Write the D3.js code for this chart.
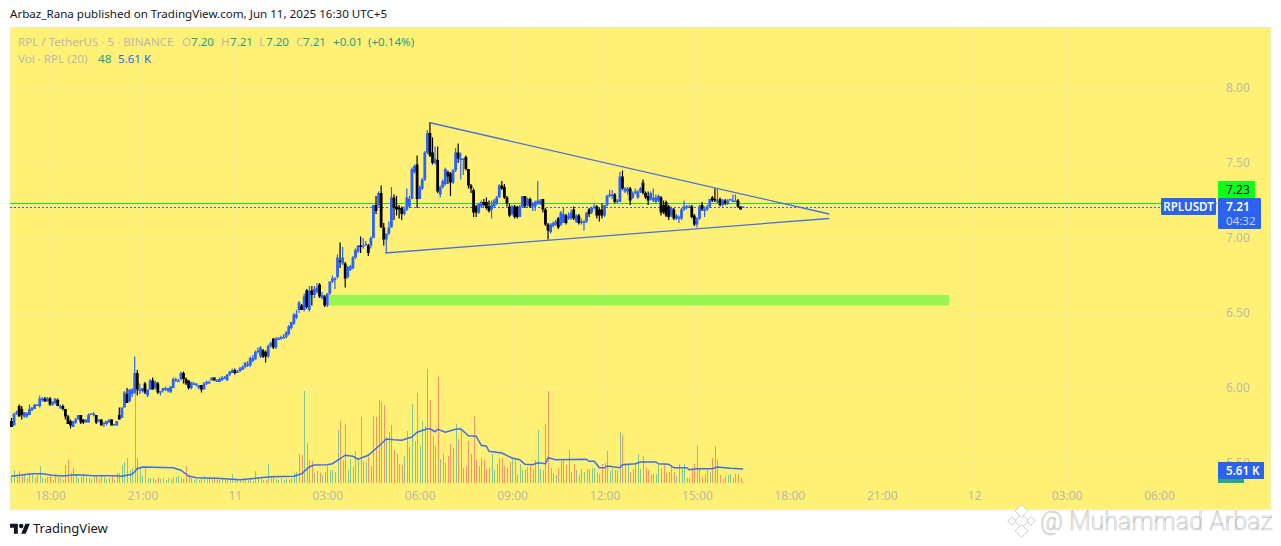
<!DOCTYPE html>
<html>
<head>
<meta charset="utf-8">
<title>RPLUSDT</title>
<script src="https://cdn.jsdelivr.net/npm/d3@7"></script>
<style>
  html, body { margin: 0; padding: 0; background: #ffffff; }
  svg { display: block; }
  text { font-family: "Noto Sans", sans-serif; }
</style>
</head>
<body>
<div id="chart"></div>
<script>
// candles, one row per hour of 5 minute bars, first bar is 16:45
var opens = [
  5.78,5.75,5.83,5.88,5.86,5.81,5.81,5.82,5.85,5.86,5.88,5.88,
  5.92,5.93,5.91,5.93,5.89,5.90,5.92,5.88,5.88,5.86,5.81,5.78,
  5.74,5.77,5.79,5.82,5.79,5.77,5.77,5.82,5.83,5.82,5.78,5.79,
  5.76,5.76,5.77,5.79,5.75,5.75,5.82,5.80,5.87,5.96,5.91,5.96,
  5.97,6.10,5.98,5.98,6.03,5.95,5.99,6.05,6.00,6.03,5.97,5.98,
  6.00,5.98,5.97,6.00,6.05,6.05,6.06,6.10,6.06,6.05,6.00,6.03,
  6.02,6.00,6.02,5.99,6.03,6.04,6.05,6.07,6.05,6.04,6.05,6.07,
  6.05,6.09,6.10,6.12,6.10,6.11,6.12,6.14,6.16,6.15,6.18,6.19,
  6.24,6.21,6.25,6.24,6.21,6.28,6.33,6.27,6.33,6.33,6.34,6.34,
  6.36,6.40,6.43,6.47,6.52,6.55,6.52,6.65,6.52,6.65,6.62,6.64,
  6.69,6.60,6.61,6.55,6.63,6.71,6.72,6.74,6.85,6.83,6.83,6.74,
  6.79,6.80,6.87,6.91,6.95,6.94,6.96,6.95,6.95,7.00,7.22,7.22,
  7.30,7.07,6.99,7.03,7.07,7.27,7.21,7.20,7.20,7.16,7.19,7.21,
  7.26,7.44,7.49,7.26,7.33,7.39,7.57,7.70,7.57,7.50,7.52,7.29,
  7.34,7.36,7.44,7.43,7.37,7.45,7.57,7.53,7.52,7.54,7.46,7.35,
  7.32,7.21,7.17,7.21,7.24,7.24,7.21,7.19,7.21,7.23,7.27,7.35,
  7.34,7.27,7.21,7.16,7.21,7.21,7.14,7.21,7.28,7.22,7.26,7.21,
  7.21,7.23,7.23,7.26,7.19,7.09,7.04,7.08,7.09,7.13,7.09,7.10,
  7.15,7.13,7.13,7.19,7.11,7.15,7.10,7.10,7.11,7.19,7.17,7.20,
  7.21,7.19,7.19,7.15,7.22,7.28,7.29,7.29,7.24,7.24,7.41,7.31,
  7.31,7.33,7.27,7.30,7.27,7.31,7.37,7.30,7.28,7.26,7.25,7.24,
  7.25,7.27,7.22,7.24,7.21,7.15,7.19,7.13,7.13,7.13,7.19,7.20,
  7.21,7.21,7.15,7.09,7.13,7.22,7.19,7.19,7.21,7.27,7.26,7.24,
  7.26,7.22,7.25,7.23,7.25,7.25,7.25,7.25,7.21,7.20
];
var highs = [
  5.80,5.83,5.85,5.89,5.88,5.84,5.84,5.89,5.87,5.89,5.89,5.95,
  5.94,5.94,5.94,5.94,5.91,5.93,5.93,5.89,5.89,5.86,5.82,5.79,
  5.78,5.80,5.82,5.82,5.79,5.79,5.83,5.83,5.84,5.82,5.79,5.79,
  5.77,5.78,5.79,5.79,5.76,5.78,5.87,5.87,5.98,6.00,5.99,6.00,
  6.21,6.12,6.03,6.00,6.04,5.99,6.06,6.07,6.05,6.04,5.98,6.00,
  6.01,6.00,6.01,6.07,6.07,6.06,6.11,6.11,6.07,6.05,6.04,6.04,
  6.03,6.02,6.02,6.04,6.05,6.05,6.07,6.07,6.06,6.07,6.08,6.08,
  6.09,6.11,6.13,6.13,6.12,6.14,6.15,6.17,6.18,6.21,6.22,6.25,
  6.27,6.28,6.26,6.25,6.29,6.31,6.33,6.34,6.34,6.35,6.36,6.38,
  6.42,6.44,6.50,6.52,6.58,6.56,6.63,6.66,6.68,6.68,6.68,6.70,
  6.70,6.64,6.62,6.63,6.71,6.75,6.74,6.89,6.97,6.94,6.84,6.81,
  6.82,6.88,6.93,6.95,7.01,7.00,6.98,6.96,7.01,7.22,7.28,7.31,
  7.35,7.10,7.03,7.11,7.34,7.29,7.28,7.22,7.21,7.21,7.33,7.28,
  7.47,7.49,7.55,7.35,7.40,7.58,7.72,7.77,7.67,7.61,7.61,7.35,
  7.39,7.47,7.45,7.44,7.46,7.60,7.63,7.57,7.53,7.55,7.46,7.36,
  7.33,7.22,7.23,7.25,7.26,7.27,7.25,7.25,7.26,7.28,7.36,7.38,
  7.36,7.28,7.23,7.22,7.22,7.21,7.22,7.28,7.28,7.27,7.27,7.24,
  7.25,7.38,7.26,7.26,7.20,7.10,7.10,7.11,7.12,7.14,7.18,7.20,
  7.16,7.17,7.19,7.21,7.16,7.16,7.13,7.12,7.17,7.20,7.21,7.23,
  7.22,7.20,7.23,7.22,7.29,7.32,7.32,7.30,7.26,7.44,7.45,7.34,
  7.34,7.34,7.31,7.33,7.32,7.34,7.39,7.31,7.31,7.31,7.33,7.29,
  7.29,7.28,7.25,7.25,7.22,7.21,7.20,7.16,7.15,7.20,7.25,7.22,
  7.22,7.22,7.16,7.14,7.22,7.24,7.21,7.22,7.26,7.28,7.33,7.33,
  7.27,7.26,7.26,7.26,7.26,7.29,7.29,7.26,7.21,7.21
];
var lows = [
  5.74,5.75,5.82,5.81,5.79,5.80,5.80,5.82,5.85,5.86,5.88,5.87,
  5.91,5.91,5.91,5.88,5.88,5.89,5.88,5.86,5.85,5.79,5.76,5.73,
  5.74,5.76,5.79,5.76,5.76,5.77,5.77,5.82,5.81,5.76,5.77,5.75,
  5.74,5.75,5.77,5.75,5.75,5.75,5.79,5.80,5.87,5.90,5.91,5.94,
  5.96,5.95,5.96,5.97,5.96,5.94,5.99,5.99,5.99,5.96,5.95,5.97,
  5.98,5.97,5.97,6.00,6.04,6.04,6.05,6.03,6.02,5.99,5.99,6.02,
  6.01,5.99,5.97,5.99,6.02,6.03,6.05,6.05,6.04,6.04,6.05,6.06,
  6.05,6.08,6.10,6.09,6.10,6.11,6.12,6.13,6.14,6.14,6.17,6.19,
  6.23,6.20,6.20,6.17,6.20,6.27,6.26,6.26,6.32,6.32,6.33,6.33,
  6.35,6.39,6.42,6.46,6.50,6.52,6.51,6.53,6.51,6.55,6.60,6.63,
  6.60,6.59,6.54,6.54,6.62,6.70,6.66,6.73,6.80,6.82,6.67,6.73,
  6.78,6.79,6.86,6.90,6.90,6.93,6.95,6.88,6.93,7.00,7.16,7.21,
  7.07,6.95,6.90,7.02,7.07,7.12,7.15,7.13,7.12,7.15,7.18,7.20,
  7.26,7.43,7.20,7.26,7.32,7.38,7.56,7.54,7.49,7.49,7.30,7.27,
  7.33,7.35,7.36,7.28,7.36,7.44,7.50,7.39,7.42,7.45,7.33,7.30,
  7.14,7.14,7.16,7.20,7.21,7.19,7.17,7.13,7.20,7.22,7.27,7.32,
  7.26,7.21,7.14,7.15,7.13,7.13,7.14,7.20,7.20,7.21,7.20,7.18,
  7.18,7.22,7.22,7.17,7.08,6.99,7.03,7.07,7.08,7.06,7.08,7.10,
  7.09,7.12,7.12,7.12,7.10,7.09,7.09,7.05,7.10,7.14,7.16,7.19,
  7.13,7.11,7.13,7.14,7.21,7.27,7.26,7.23,7.23,7.24,7.32,7.30,
  7.29,7.22,7.26,7.29,7.26,7.30,7.29,7.26,7.22,7.25,7.24,7.23,
  7.24,7.15,7.16,7.14,7.12,7.14,7.12,7.12,7.10,7.12,7.18,7.19,
  7.20,7.13,7.08,7.07,7.12,7.18,7.14,7.18,7.20,7.24,7.24,7.23,
  7.21,7.21,7.22,7.22,7.25,7.24,7.25,7.20,7.19,7.20
];
var closes = [
  5.74,5.83,5.84,5.81,5.82,5.84,5.83,5.86,5.87,5.89,5.89,5.93,
  5.93,5.91,5.93,5.89,5.91,5.93,5.88,5.88,5.86,5.81,5.76,5.75,
  5.78,5.79,5.82,5.77,5.77,5.79,5.82,5.83,5.83,5.77,5.79,5.75,
  5.77,5.78,5.79,5.75,5.76,5.78,5.79,5.87,5.97,5.90,5.99,5.99,
  6.10,5.99,5.99,6.00,5.97,5.99,6.05,5.99,6.04,5.97,5.98,6.00,
  6.00,6.00,6.01,6.06,6.06,6.05,6.10,6.06,6.03,6.00,6.04,6.03,
  6.03,6.02,5.99,6.03,6.04,6.04,6.07,6.05,6.05,6.06,6.07,6.07,
  6.09,6.11,6.12,6.10,6.11,6.13,6.14,6.17,6.16,6.20,6.20,6.24,
  6.25,6.27,6.21,6.21,6.28,6.30,6.27,6.33,6.33,6.34,6.34,6.37,
  6.41,6.44,6.49,6.49,6.57,6.52,6.61,6.54,6.65,6.62,6.66,6.67,
  6.61,6.62,6.55,6.63,6.71,6.73,6.73,6.87,6.84,6.87,6.73,6.81,
  6.81,6.87,6.92,6.95,6.94,6.95,6.96,6.90,7.00,7.22,7.18,7.30,
  7.07,6.99,7.03,7.07,7.27,7.20,7.19,7.19,7.16,7.19,7.27,7.26,
  7.46,7.48,7.26,7.34,7.39,7.57,7.70,7.55,7.50,7.53,7.31,7.34,
  7.38,7.46,7.41,7.37,7.45,7.57,7.53,7.53,7.53,7.46,7.35,7.33,
  7.17,7.17,7.23,7.24,7.22,7.20,7.18,7.22,7.25,7.27,7.35,7.33,
  7.27,7.23,7.15,7.21,7.14,7.14,7.21,7.28,7.21,7.26,7.21,7.23,
  7.24,7.25,7.25,7.19,7.09,7.05,7.09,7.10,7.11,7.07,7.17,7.16,
  7.10,7.15,7.17,7.13,7.15,7.10,7.11,7.11,7.17,7.16,7.20,7.21,
  7.15,7.15,7.15,7.22,7.28,7.29,7.29,7.24,7.25,7.41,7.33,7.33,
  7.33,7.25,7.30,7.31,7.31,7.33,7.30,7.27,7.25,7.30,7.27,7.27,
  7.28,7.17,7.17,7.15,7.14,7.20,7.13,7.15,7.14,7.19,7.21,7.21,
  7.21,7.14,7.09,7.13,7.21,7.19,7.19,7.21,7.26,7.25,7.25,7.25,
  7.22,7.25,7.23,7.25,7.26,7.25,7.25,7.21,7.19,7.21
];

// volume in thousands of RPL
var volumes = [
  3.2,5.2,2.8,4.8,3.6,3.2,2,4,4,2.4,3.2,6.8,
  2,1.6,2.4,2.8,1.2,3.6,2.4,2,1.2,7.2,9.2,4,
  6,3.6,2,2.4,3.6,2.4,2,1.6,2.4,3.2,1.6,2.8,
  2.4,1.6,2,3.2,1.2,4,4,7.2,8.4,10,5.2,6,
  37.2,10,6,2.8,6,2,2,2,1.2,2,1.6,2,
  1.2,2,1.6,2.4,2.4,2.8,2,1.6,6.8,2.8,2,1.2,
  1.6,1.2,2,2.8,1.6,2.4,2,1.6,2,1.2,1.6,1.6,
  1.2,1.2,3.6,1.6,1.2,1.2,1.6,1.2,1.2,1.6,0.8,4.8,
  2.4,1.6,1.2,1.2,7.6,2.4,2.8,1.6,1.2,2,1.2,1.6,
  1.2,2,4,4.4,11.6,11.2,36.8,16,9.2,8.8,4,4.8,
  4,3.2,4.4,6.8,5.2,5.2,4.4,21.2,24.8,9.2,23.6,5.2,
  9.6,6.4,12.8,9.2,26.4,8.4,8.4,10.4,6.8,26.8,26.4,33.2,
  32.4,31.2,18.4,20.4,23.2,13.2,11.6,7.6,7.2,10.8,20.8,14.4,
  31.6,16.8,36,14.8,24.8,22.8,45.6,33.2,18.8,14.8,42.4,9.6,
  11.6,8,10.8,15.6,14,23.6,17.6,21.2,6,6.8,16.8,11.6,
  26.8,9.2,6.8,10,9.2,5.6,6,11.6,5.2,7.6,10,10,
  6.8,6,8.4,10,9.2,3.2,7.6,5.2,5.2,6.4,6.8,5.6,
  9.2,21.2,5.6,5.2,23.6,36.8,6,4,3.2,6,8.8,9.6,
  7.2,13.2,4.4,7.6,5.2,3.2,5.6,4.4,5.6,5.6,6,6,
  4,3.6,7.6,8,12.8,4.8,5.6,5.2,5.2,20.4,19.2,8,
  7.6,4.4,5.6,7.6,11.6,5.6,10.8,6,5.2,3.2,3.6,3.6,
  7.2,6,7.2,4,4.4,7.2,4.4,2.8,7.6,5.6,7.6,2,
  2,6,7.6,15.2,6,2.4,3.6,5.2,4.4,10,14.8,9.2,
  3.2,1.6,2.8,3.2,3.6,2,3.6,3.6,2,0.048
];

// volume moving average at these bars
var maBars = [0,3,8,12,16,20,25,32,40,43,47,49,51,63,66,69,72,80,89,97,101,110,113,116,118,123,125,128,130,133,135,139,143,146,149,152,156,158,162,163,165,166,169,173,175,178,181,183,185,186,191,195,198,200,203,205,208,209,212,224,225,227,229,231,232,237,238,243,245,251,252,256,258,263,264,267,273,275,280,285];
var maValues = [2.7,3.1,3.7,3.7,3.1,2.8,3.3,2.9,2.9,2.7,3.5,5.7,6.4,6.1,5.1,2.8,2.1,1.9,1.3,2.1,2.5,2.7,3.7,6.4,7.2,7.3,7.7,9.7,11.1,10.7,9.5,11.1,14.7,17.6,17.3,17.1,18.4,20.3,21.7,21.7,20.5,21.5,20.3,21.5,21.7,18.9,18.7,15.1,14.7,12.7,12,10,9.3,7.5,7.3,8.1,7.7,10.1,9.3,9.5,8.7,8.7,6.1,6.1,6.8,6.1,7.3,7.7,8.4,8.4,7.7,7.5,6.1,6.1,5.3,5.7,5.7,6.4,5.9,5.61];

// axis ticks
var priceTicks = [8.0, 7.5, 7.0, 6.5, 6.0, 5.5];
var timeTickBars = [15, 51, 87, 123, 159, 195, 231, 267, 303, 339, 375, 411, 447];
var timeTickLabels = ["18:00", "21:00", "11", "03:00", "06:00", "09:00", "12:00", "15:00", "18:00", "21:00", "12", "03:00", "06:00"];

// drawings on the chart
var upperTrendBars = [162.6, 318.5];
var upperTrendPrices = [7.77, 7.16];
var lowerTrendBars = [145.5, 318.5];
var lowerTrendPrices = [6.90, 7.13];
var zoneBars = [123.7, 365.2];
var zonePrices = [6.62, 6.55];
var lastPrice = 7.21;
var greenPrice = 7.23;

var width = 1281;
var height = 546;
var pane = {left: 10, top: 27, right: 1271, bottom: 510, scale: 1217, time: 483};

var candleUp = "#2962ff";
var candleDown = "#000000";
var paneColor = "#fff176";
var gridColor = "#f8ee8d";
var axisText = "#bcbaa6";
var tealText = "#1fa08a";
var smallFont = 11.6;

var svg = d3.select("#chart").append("svg")
    .attr("width", width)
    .attr("height", height);

// scales
var xScale = d3.scaleLinear().domain([15, 447]).range([50, 1159]);
var yScale = d3.scaleLinear().domain([5.5, 8]).range([463, 88]);
var volScale = d3.scaleLinear().domain([0, 46]).range([483, 368]);

// chart background
svg.append("rect")
    .attr("x", pane.left)
    .attr("y", pane.top)
    .attr("width", pane.right - pane.left)
    .attr("height", pane.bottom - pane.top)
    .attr("fill", paneColor)
    .attr("stroke", "#eceef2")
    .attr("stroke-width", 1);

svg.append("clipPath").attr("id", "paneClip")
  .append("rect")
    .attr("x", pane.left)
    .attr("y", pane.top)
    .attr("width", pane.scale - pane.left)
    .attr("height", pane.time - pane.top);

// grid
var grid = svg.append("g").attr("shape-rendering", "crispEdges");
grid.selectAll(".hgrid").data(priceTicks).enter().append("line")
    .attr("x1", pane.left).attr("x2", pane.scale)
    .attr("y1", d => yScale(d)).attr("y2", d => yScale(d))
    .attr("stroke", gridColor);
grid.selectAll(".vgrid").data(timeTickBars).enter().append("line")
    .attr("x1", d => xScale(d)).attr("x2", d => xScale(d))
    .attr("y1", pane.top).attr("y2", pane.time)
    .attr("stroke", gridColor);

var plot = svg.append("g").attr("clip-path", "url(#paneClip)");

// volume bars
plot.append("g").attr("shape-rendering", "crispEdges")
  .selectAll(".vol").data(volumes).enter().append("rect")
    .attr("class", "vol")
    .attr("x", (d, i) => Math.round(xScale(i)))
    .attr("width", 1)
    .attr("y", d => Math.min(volScale(d), 482))
    .attr("height", d => Math.max(483 - volScale(d), 1))
    .attr("fill", (d, i) => closes[i] >= opens[i] ? "#83c690" : "#fb9264");

// volume moving average
var maLine = d3.line().x(d => xScale(d[0])).y(d => volScale(d[1]));
plot.append("path")
    .datum(d3.zip(maBars, maValues))
    .attr("d", maLine)
    .attr("fill", "none")
    .attr("stroke", "#3f6ee8")
    .attr("stroke-width", 1.5);

// price lines
plot.append("line")
    .attr("x1", pane.left).attr("x2", pane.scale)
    .attr("y1", Math.round(yScale(greenPrice)) + 0.5).attr("y2", Math.round(yScale(greenPrice)) + 0.5)
    .attr("stroke", "#2fd12f").attr("stroke-width", 1);
plot.append("line")
    .attr("x1", pane.left).attr("x2", pane.scale)
    .attr("y1", Math.round(yScale(lastPrice)) + 0.5).attr("y2", Math.round(yScale(lastPrice)) + 0.5)
    .attr("stroke", candleUp).attr("stroke-width", 1)
    .attr("stroke-dasharray", "2 2");

// candles
var candles = plot.selectAll(".candle").data(closes).enter().append("g")
    .attr("class", "candle")
    .attr("fill", (d, i) => d >= opens[i] ? candleUp : candleDown);

candles.append("rect")
    .attr("x", (d, i) => xScale(i) - 0.6)
    .attr("width", 1.2)
    .attr("y", (d, i) => yScale(highs[i]))
    .attr("height", (d, i) => yScale(lows[i]) - yScale(highs[i]));

candles.append("rect")
    .attr("x", (d, i) => xScale(i) - 1.4)
    .attr("width", 2.8)
    .attr("y", (d, i) => yScale(Math.max(d, opens[i])))
    .attr("height", (d, i) => Math.max(Math.abs(yScale(d) - yScale(opens[i])), 1.5));

// green zone
plot.append("rect")
    .attr("x", xScale(zoneBars[0]))
    .attr("width", xScale(zoneBars[1]) - xScale(zoneBars[0]))
    .attr("y", yScale(zonePrices[0]))
    .attr("height", yScale(zonePrices[1]) - yScale(zonePrices[0]))
    .attr("fill", "#97f552");

// triangle
plot.selectAll(".trend")
    .data([d3.zip(upperTrendBars, upperTrendPrices), d3.zip(lowerTrendBars, lowerTrendPrices)])
    .enter().append("path")
    .attr("class", "trend")
    .attr("d", d3.line().x(d => xScale(d[0])).y(d => yScale(d[1])))
    .attr("fill", "none")
    .attr("stroke", "#4a6fd8")
    .attr("stroke-width", 1.3);

// axes
var priceAxis = d3.axisRight(yScale)
    .tickValues(priceTicks)
    .tickFormat(d3.format(".2f"))
    .tickSize(0)
    .tickPadding(0);
var priceG = svg.append("g")
    .attr("transform", "translate(1226,0)")
    .call(priceAxis);
priceG.select(".domain").remove();
priceG.selectAll("text").attr("fill", axisText).attr("font-size", 12)
    .style("font-family", '"Noto Sans", sans-serif');

var timeAxis = d3.axisBottom(xScale)
    .tickValues(timeTickBars)
    .tickFormat((d, i) => timeTickLabels[i])
    .tickSize(0)
    .tickPadding(8);
var timeG = svg.append("g")
    .attr("transform", "translate(0," + pane.time + ")")
    .call(timeAxis);
timeG.select(".domain").remove();
timeG.selectAll("text").attr("fill", axisText).attr("font-size", 12)
    .style("font-family", '"Noto Sans", sans-serif');

// header and legend
svg.append("text").attr("x", 10).attr("y", 18).attr("font-size", smallFont).attr("fill", "#131722")
    .text("Arbaz_Rana published on TradingView.com, Jun 11, 2025 16:30 UTC+5");

var legendTop = [
  {x: 18, t: "RPL / TetherUS · 5 · BINANCE", c: axisText},
  {x: 182, t: "O", c: axisText}, {x: 191, t: "7.20", c: tealText},
  {x: 221, t: "H", c: axisText}, {x: 230, t: "7.21", c: tealText},
  {x: 259, t: "L", c: axisText}, {x: 266, t: "7.20", c: tealText},
  {x: 296, t: "C", c: axisText}, {x: 303, t: "7.21", c: tealText},
  {x: 333, t: "+0.01", c: tealText}, {x: 368, t: "(+0.14%)", c: tealText}
];
var legendVol = [
  {x: 18, t: "Vol · RPL (20)", c: axisText},
  {x: 98, t: "48", c: tealText},
  {x: 118, t: "5.61 K", c: candleUp}
];
svg.selectAll(".legTop").data(legendTop).enter().append("text")
    .attr("x", d => d.x).attr("y", 46).attr("font-size", smallFont)
    .attr("fill", d => d.c).text(d => d.t);
svg.selectAll(".legVol").data(legendVol).enter().append("text")
    .attr("x", d => d.x).attr("y", 63).attr("font-size", smallFont)
    .attr("fill", d => d.c).text(d => d.t);

// price labels on the right
svg.append("rect").attr("x", 1161).attr("y", 198).attr("width", 55).attr("height", 17).attr("rx", 1).attr("fill", "#2b62f0");
svg.append("text").attr("x", 1188.5).attr("y", 211).attr("text-anchor", "middle").attr("font-size", smallFont)
    .attr("font-weight", 600).attr("fill", "#ffffff").text("RPLUSDT");

svg.append("rect").attr("x", 1218).attr("y", 181).attr("width", 37).attr("height", 17).attr("rx", 1).attr("fill", "#0dff1a");
svg.append("text").attr("x", 1226).attr("y", 194).attr("font-size", 12).attr("fill", "#131722").text("7.23");

svg.append("rect").attr("x", 1218).attr("y", 198).attr("width", 43).attr("height", 31).attr("rx", 1).attr("fill", "#2b62f0");
svg.append("text").attr("x", 1226).attr("y", 211).attr("font-size", 12).attr("font-weight", 600).attr("fill", "#ffffff").text("7.21");
svg.append("text").attr("x", 1226).attr("y", 225).attr("font-size", smallFont).attr("fill", "#c9d6fb").text("04:32");

svg.append("rect").attr("x", 1218).attr("y", 479).attr("width", 26).attr("height", 4).attr("fill", "#2ba58c");
svg.append("rect").attr("x", 1218).attr("y", 462).attr("width", 46).attr("height", 17).attr("fill", "#2b62f0");
svg.append("text").attr("x", 1226).attr("y", 475).attr("font-size", smallFont).attr("font-weight", 600).attr("fill", "#ffffff").text("5.61 K");

// tradingview logo
var logo = svg.append("g").attr("transform", "translate(10,521.5) scale(0.56)").attr("fill", "#131722");
logo.append("path").attr("d", "M14 22H7V11H0V4h14v18zM28 22h-8l7.5-18h8L28 22z");
logo.append("circle").attr("cx", 20).attr("cy", 8).attr("r", 4);
svg.append("text").attr("x", 33).attr("y", 533).attr("font-size", 13).attr("fill", "#131722").text("TradingView");

// watermark
var mark = svg.append("g").attr("fill", "#ffffff").attr("stroke", "#c4c4c4").attr("stroke-width", 0.8);
var markSquares = [[1021.5, 521, 5], [1012, 521, 3], [1031, 521, 3], [1021.5, 511, 4.5], [1021.5, 531, 4.5]];
mark.selectAll("rect").data(markSquares).enter().append("rect")
    .attr("x", d => d[0] - d[2])
    .attr("y", d => d[1] - d[2])
    .attr("width", d => d[2] * 2)
    .attr("height", d => d[2] * 2)
    .attr("transform", d => "rotate(45 " + d[0] + " " + d[1] + ")");
mark.append("text").attr("x", 1040).attr("y", 530).attr("font-size", 25)
    .attr("stroke-width", 0.6)
    .style("font-family", "Roboto, sans-serif").style("font-weight", 300)
    .text("@ Muhammad Arbaz");
</script>
</body>
</html>
